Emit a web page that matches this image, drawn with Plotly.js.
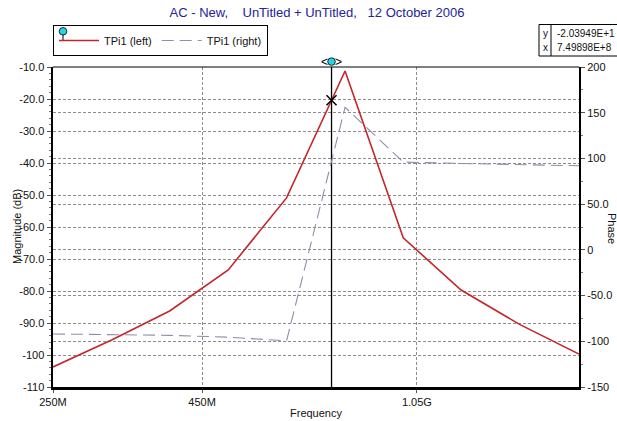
<!DOCTYPE html>
<html><head><meta charset="utf-8">
<script src="https://cdn.plot.ly/plotly-3.0.1.min.js"></script>
<style>html,body{margin:0;padding:0;background:#fff}#chart{width:617px;height:421px}</style>
</head><body><div id="chart"></div>
<script>
// ---- data ----
var frequency = [250e6, 315e6, 396e6, 499e6, 628e6, 791e6, 995e6, 1.25e9, 1.58e9, 1.99e9];
var magnitudeDb = [-103.75, -95.3, -86.25, -73.4, -50.9, -11.25, -63.4, -79.7, -90.6, -99.7];
var phaseDeg = [-92, -92.5, -93.5, -95.5, -99.5, 156, 96, 94.5, 93, 92];
var cursorX = 7.49898e8;
var cursorY = -20.3949;
var xTickVals = [250e6, 450e6, 1.05e9];
var xTickText = ['250M', '450M', '1.05G'];
var yTickVals = [-10, -20, -30, -40, -50, -60, -70, -80, -90, -100, -110];
var yTickText = ['-10.0', '-20.0', '-30.0', '-40.0', '-50.0', '-60.0', '-70.0', '-80.0', '-90.0', '-100', '-110'];
var y2TickVals = [200, 150, 100, 50, 0, -50, -100, -150];
var y2TickText = ['200', '150', '100', '50.0', '0', '-50.0', '-100', '-150'];

// ---- layout helpers (pixel -> paper) ----
var L = 53, R = 579, T = 67, B = 387, W = 617, H = 421;
function px(x) { return (x - L) / (R - L); }
function py(y) { return (B - y) / (B - T); }
var FONT = 'Liberation Sans, Arial, sans-serif';
var gridCol = '#8c8c8c';
var xLo = Math.log10(250e6), xHi = Math.log10(1.99e9);
var cursorPaperX = (Math.log10(cursorX) - xLo) / (xHi - xLo);
var dpx = 1 / (R - L), dpy = 1 / (B - T);

var traces = [
  {x: frequency, y: magnitudeDb, type: 'scatter', mode: 'lines', name: 'TPi1 (left)',
   line: {color: '#c4262b', width: 1.6}, yaxis: 'y'},
  {x: frequency, y: phaseDeg, type: 'scatter', mode: 'lines', name: 'TPi1 (right)',
   line: {color: '#8e8ea8', width: 1.1, dash: '12px,6px'}, yaxis: 'y2'},
  {x: [cursorX, cursorX], y: [-110, -10], type: 'scatter', mode: 'lines', showlegend: false,
   line: {color: '#000', width: 1.3}, hoverinfo: 'skip'},
  {x: [cursorX], y: [cursorY], type: 'scatter', mode: 'markers', showlegend: false,
   marker: {symbol: 'x-thin', size: 10, line: {color: '#000', width: 1.5}}}
];

var layout = {
  width: W, height: H,
  margin: {l: L, r: W - R, t: T, b: H - B, pad: 0},
  paper_bgcolor: '#fff', plot_bgcolor: '#fff',
  font: {family: FONT, size: 11, color: '#111'},
  title: {text: 'AC - New,\u00a0\u00a0\u00a0 UnTitled + UnTitled,\u00a0\u00a0 12 October 2006',
          font: {family: FONT, size: 13, color: '#24249a'}, x: px(317), xref: 'paper', xanchor: 'center',
          y: 1 - 12.5 / H, yref: 'container', yanchor: 'middle'},
  showlegend: true,
  legend: {orientation: 'h', x: px(53), y: py(25), xanchor: 'left', yanchor: 'top',
           bordercolor: '#000', borderwidth: 1, bgcolor: 'rgba(0,0,0,0)',
           font: {family: FONT, size: 11, color: '#111'}, itemwidth: 40, tracegroupgap: 0},
  xaxis: {type: 'log', range: [xLo, xHi],
          tickmode: 'array', tickvals: xTickVals, ticktext: xTickText,
          ticks: 'outside', ticklen: 3, tickcolor: '#555',
          showgrid: true, gridcolor: gridCol, griddash: '3px,2px', gridwidth: 1,
          showline: true, linecolor: '#000', linewidth: 3, zeroline: false,
          title: {text: 'Frequency', font: {family: FONT, size: 11, color: '#111'}, standoff: 3}},
  yaxis: {range: [-110, -10], tickmode: 'array', tickvals: yTickVals, ticktext: yTickText,
          ticks: 'outside', ticklen: 4, tickcolor: '#555',
          minor: {tickmode: 'linear', tick0: -110, dtick: 2, ticks: 'outside', ticklen: 2, tickcolor: '#777', showgrid: false},
          showgrid: true, gridcolor: gridCol, griddash: '3px,2px', gridwidth: 1,
          showline: true, linecolor: '#000', linewidth: 2.5, zeroline: false},
  yaxis2: {range: [-150, 200], overlaying: 'y', side: 'right',
           tickmode: 'array', tickvals: y2TickVals, ticktext: y2TickText,
           ticks: 'outside', ticklen: 4, tickcolor: '#555',
           minor: {tickmode: 'linear', tick0: -150, dtick: 25, ticks: 'outside', ticklen: 2, tickcolor: '#777', showgrid: false},
           showgrid: true, gridcolor: gridCol, griddash: '3px,2px', gridwidth: 1,
           showline: true, linecolor: '#000', linewidth: 2, zeroline: false},
  shapes: [
    {type: 'line', xref: 'paper', yref: 'paper', x0: 0, x1: 1, y0: 1, y1: 1, line: {color: '#000', width: 1.2}},
    // cursor readout box
    {type: 'rect', xref: 'paper', yref: 'paper', x0: px(539), x1: px(618), y0: py(24.5), y1: py(56), line: {color: '#000', width: 1}},
    {type: 'line', xref: 'paper', yref: 'paper', x0: px(551), x1: px(551), y0: py(24.5), y1: py(56), line: {color: '#000', width: 1}},
    // cursor handle on top of the plot
    {type: 'circle', xref: 'paper', yref: 'paper', x0: cursorPaperX - 3.8 * dpx, x1: cursorPaperX + 3.8 * dpx,
     y0: py(57.8), y1: py(65.4), fillcolor: '#27d3e6', line: {color: '#000', width: 0.8}},
    // legend symbol handle
    {type: 'line', xref: 'paper', yref: 'paper', x0: px(63), x1: px(63), y0: py(34), y1: py(41), line: {color: '#000', width: 1}},
    {type: 'circle', xref: 'paper', yref: 'paper', x0: px(59.2), x1: px(66.8), y0: py(27.5), y1: py(35.1),
     fillcolor: '#27d3e6', line: {color: '#000', width: 0.8}}
  ],
  annotations: [
    {xref: 'paper', yref: 'paper', x: px(545), y: py(33), text: 'y', showarrow: false, xanchor: 'center', yanchor: 'middle', font: {size: 10}},
    {xref: 'paper', yref: 'paper', x: px(545), y: py(47), text: 'x', showarrow: false, xanchor: 'center', yanchor: 'middle', font: {size: 10}},
    {xref: 'paper', yref: 'paper', x: px(555), y: py(33), text: cursorY.toExponential(5).replace('e', 'E'), showarrow: false, xanchor: 'left', yanchor: 'middle', font: {size: 10}},
    {xref: 'paper', yref: 'paper', x: px(555), y: py(47), text: cursorX.toExponential(5).replace('e', 'E'), showarrow: false, xanchor: 'left', yanchor: 'middle', font: {size: 10}},
    {xref: 'paper', yref: 'paper', x: cursorPaperX - 7 * dpx, y: py(61.5), text: '&lt;', showarrow: false, xanchor: 'center', yanchor: 'middle', font: {size: 12, color: '#000'}},
    {xref: 'paper', yref: 'paper', x: cursorPaperX + 7 * dpx, y: py(61.5), text: '&gt;', showarrow: false, xanchor: 'center', yanchor: 'middle', font: {size: 12, color: '#000'}},
    {xref: 'paper', yref: 'paper', x: px(17), y: py(227), text: 'Magnitude (dB)', textangle: -90, showarrow: false, xanchor: 'center', yanchor: 'middle', font: {size: 11, color: '#111'}},
    {xref: 'paper', yref: 'paper', x: px(612), y: py(228), text: 'Phase', textangle: 90, showarrow: false, xanchor: 'center', yanchor: 'middle', font: {size: 11, color: '#111'}}
  ]
};

Plotly.newPlot('chart', traces, layout, {displayModeBar: false, staticPlot: true});
</script></body></html>
